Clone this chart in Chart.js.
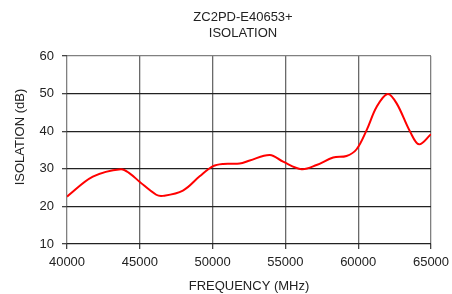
<!DOCTYPE html>
<html><head><meta charset="utf-8">
<script src="https://cdn.jsdelivr.net/npm/chart.js@4/dist/chart.umd.min.js"></script>
<style>html,body{margin:0;padding:0;background:#fff}#wrap{width:452px;height:294px}</style>
</head><body><div id="wrap"><canvas id="c" width="452" height="294"></canvas></div>
<script>
const titleLines = ["ZC2PD-E40653+", "ISOLATION"];
const xTitle = "FREQUENCY (MHz)";
const yTitle = "ISOLATION (dB)";
const frequencies = [40000, 41775, 43700, 44300, 45000, 46130, 46590, 47960, 49110, 50030, 50720, 51860, 52550, 53930, 54840, 56110, 57140, 58280, 59200, 59890, 60580, 61270, 62020, 62640, 63560, 64180, 65000];
const isolation =   [22.6, 27.9, 29.9, 28.8, 26.5, 23.1, 22.8, 24.2, 28.0, 30.7, 31.3, 31.4, 32.2, 33.7, 31.9, 29.9, 31.0, 33.0, 33.4, 35.2, 40.3, 46.5, 49.9, 47.4, 39.9, 36.5, 39.2];
const xTicks = [40000, 45000, 50000, 55000, 60000, 65000];
const yTicks = [10, 20, 30, 40, 50, 60];

const FONT = "'Liberation Sans', Arial, sans-serif";
const pts = frequencies.map((f, i) => ({x: f, y: isolation[i]}));

const titlePlugin = {
  id: 'titles',
  afterDraw(chart) {
    const ctx = chart.ctx;
    ctx.save();
    ctx.fillStyle = '#222';
    ctx.font = "13px " + FONT;
    ctx.textAlign = 'center';
    ctx.textBaseline = 'middle';
    ctx.fillText(titleLines[0], 243, 17);
    ctx.fillText(titleLines[1], 243, 33);
    ctx.translate(20, 137);
    ctx.rotate(-Math.PI / 2);
    ctx.fillText(yTitle, 0, 0);
    ctx.restore();
  }
};

new Chart(document.getElementById('c'), {
  type: 'line',
  data: { datasets: [{ data: pts, borderColor: '#ff0000', borderWidth: 2, pointRadius: 0, tension: 0.35, fill: false }] },
  plugins: [titlePlugin],
  options: {
    responsive: false, animation: false,
    layout: { padding: { left: 0, right: 21, top: 56, bottom: 0 } },
    plugins: { legend: { display: false }, tooltip: { enabled: false }, title: { display: false } },
    scales: {
      x: {
        type: 'linear', min: 40000, max: 65000,
        afterBuildTicks: s => { s.ticks = xTicks.map(v => ({value: v})); },
        afterFit: s => { s.height = 50; s.paddingRight = 0; s.paddingLeft = 0; },
        ticks: { color: '#222', font: { family: FONT, size: 13 }, padding: 6, maxRotation: 0, callback: v => String(v) },
        grid: { color: ctx => (ctx.index === 0 || ctx.index === xTicks.length - 1) ? '#808080' : '#6a6a6a', lineWidth: 1.3, tickLength: 5, tickColor: '#444' },
        border: { display: false },
        title: { display: true, text: xTitle, color: '#222', font: { family: FONT, size: 13 }, padding: { top: 2, bottom: 0 } }
      },
      y: {
        min: 10, max: 60,
        afterBuildTicks: s => { s.ticks = yTicks.map(v => ({value: v})); },
        afterFit: s => { s.width = 67; },
        ticks: { color: '#222', font: { family: FONT, size: 13 }, padding: 8 },
        grid: { color: ctx => (ctx.index === yTicks.length - 1) ? '#808080' : '#222', lineWidth: 1.3, tickLength: 5, tickColor: '#444' },
        border: { display: false },
        title: { display: false }
      }
    }
  }
});
</script></body></html>
